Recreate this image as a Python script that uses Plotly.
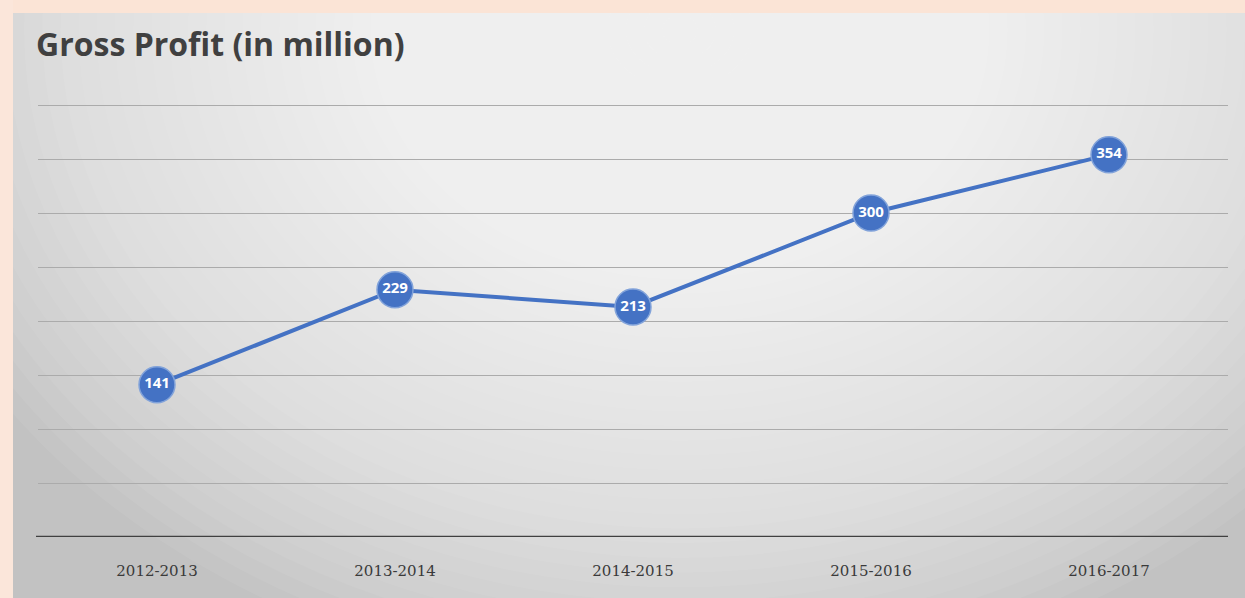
import plotly.graph_objects as go

periods = ["2012-2013", "2013-2014", "2014-2015", "2015-2016", "2016-2017"]
gross_profit = [141, 229, 213, 300, 354]
labels = [str(v) for v in gross_profit]

W, H = 1245, 598

def px(x):
    return x / W

def py(y):
    return 1 - y / H

fig = go.Figure()
fig.add_trace(go.Scatter(
    x=periods, y=gross_profit, mode="lines+markers+text",
    text=labels, textposition="middle center",
    textfont=dict(family="Open Sans", size=15, color="white", weight="bold"),
    line=dict(color="#4472c4", width=4),
    marker=dict(size=36, color="#4472c4", line=dict(color="#82a3da", width=1.5)),
    cliponaxis=False, hoverinfo="skip",
))

shapes = []
# panel base
shapes.append(dict(type="rect", xref="paper", yref="paper", x0=px(13), x1=px(W + 5),
                   y0=py(H + 5), y1=py(13), fillcolor="#c2c2c2", line=dict(width=0), layer="below"))
# radial highlight
cx, cy = 680, 30
n = 45
for i in range(n):
    f = 1 - i / n
    rx, ry = 820 * f, 660 * f
    shapes.append(dict(type="circle", xref="paper", yref="paper",
                       x0=px(cx - rx), x1=px(cx + rx), y0=py(cy + ry), y1=py(cy - ry),
                       fillcolor="white", opacity=0.06, line=dict(width=0), layer="below"))
# peach border strips
shapes.append(dict(type="rect", xref="paper", yref="paper", x0=0, x1=1, y0=py(13), y1=1.01,
                   fillcolor="#fbe4d6", line=dict(width=0), layer="below"))
shapes.append(dict(type="rect", xref="paper", yref="paper", x0=-0.01, x1=px(13), y0=-0.01, y1=1.01,
                   fillcolor="#fbe6da", line=dict(width=0), layer="below"))
# baseline
shapes.append(dict(type="line", xref="paper", yref="y", x0=px(36), x1=px(1228), y0=0, y1=0,
                   line=dict(color="#404040", width=2.5), layer="above"))

ymax = 410
y_top_px = 537 - ymax * 432 / 400

fig.update_layout(
    width=W, height=H,
    margin=dict(l=0, r=0, t=0, b=0),
    paper_bgcolor="#fbe4d6",
    plot_bgcolor="rgba(0,0,0,0)",
    showlegend=False,
    shapes=shapes,
    xaxis=dict(domain=[px(38), px(1228)], range=[-0.5, 4.5], showgrid=False, zeroline=False,
               showline=False, ticks="",
               tickfont=dict(family="DejaVu Serif", size=15, color="#3a3a3a"),
               ticklabelstandoff=23),
    yaxis=dict(domain=[py(537), py(y_top_px)], range=[0, ymax],
               tickvals=[50, 100, 150, 200, 250, 300, 350, 400],
               showgrid=True, gridcolor="#ababab", gridwidth=1, zeroline=False,
               showticklabels=False, showline=False, ticks=""),
    annotations=[dict(text="<b>Gross Profit (in million)</b>", xref="paper", yref="paper",
                      x=px(34), y=py(44), xanchor="left", yanchor="middle", showarrow=False,
                      font=dict(family="Open Sans", size=32, color="#404040"))],
)

fig.write_html("out.html")
